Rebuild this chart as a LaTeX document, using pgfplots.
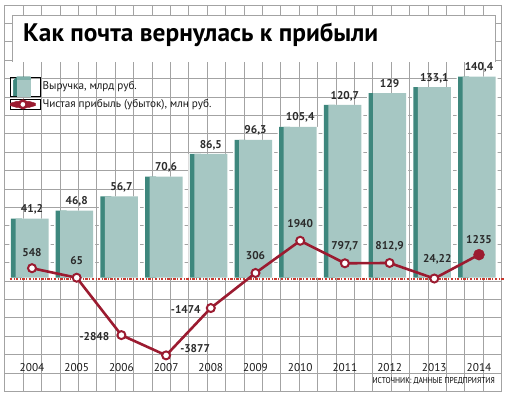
\documentclass[border=0pt]{standalone}
\usepackage{pgfplots}
\pgfplotsset{compat=1.18}
\usepackage{pgfplotstable}
\usepackage{fontspec}
\setmainfont{PT Sans}
\definecolor{gridgray}{HTML}{A3A3A3}
\definecolor{teallight}{HTML}{A6C7C3}
\definecolor{tealmid}{HTML}{7FB0AA}
\definecolor{tealdark}{HTML}{3E877D}
\definecolor{profred}{HTML}{9B1B30}
\definecolor{zerored}{HTML}{C8392F}
\definecolor{labgray}{HTML}{2B2B2B}

\pgfplotstableread{
x rev lab
0 41.2 41,2
1 46.8 46,8
2 56.7 56,7
3 70.6 70,6
4 86.5 86,5
5 96.3 96,3
6 105.4 105,4
7 120.7 120,7
8 129 129
9 133.1 133,1
10 140.4 140,4
}\revenue

\pgfplotstableread{
x y lab dx dy
0 548 548 0 16
1 65 65 0 17
2 -2848 -2848 -27 -1
3 -3877 -3877 29 7
4 -1474 -1474 -25 -1
5 306 306 0 17
6 1940 1940 0 17
7 797.7 797,7 0 17
8 812.9 812,9 0 17
9 24.22 24,22 3 19
10 1235 1235 0 15
}\profit

\begin{document}
\begin{tikzpicture}
\useasboundingbox (0,0) rectangle (509bp,398bp);
\begin{scope}[x=1bp,y=1bp]
% background grid
\foreach \k in {0,...,21}{
  \draw[gridgray, line width=0.9bp] (4,{393-18.4*\k}) -- (502,{393-18.4*\k});
}
\draw[gridgray, line width=0.9bp] (4,393) -- (4,6.6);
\foreach \k in {0,...,26}{
  \draw[gridgray, line width=0.9bp] ({23.3+18.4*\k},393) -- ({23.3+18.4*\k},6.6);
}
% title box
\fill[white] (12,336) rectangle (495,383);
\draw[gridgray, line width=0.9bp] (12,336) -- (12,383) -- (495,383) -- (495,336);
\node[anchor=base west, inner sep=0pt] at (23,356)
  {\resizebox{355bp}{!}{\bfseries Как почта вернулась к прибыли}};
% source
\node[anchor=east, inner sep=0pt] at (495,17)
  {\scalebox{0.88}[1]{\fontsize{8.5bp}{10bp}\selectfont ИСТОЧНИК: ДАННЫЕ ПРЕДПРИЯТИЯ}};
\end{scope}

% revenue bars
\begin{axis}[
  at={(9.65bp,38bp)}, anchor=south west,
  width=491.7bp, height=300bp, scale only axis,
  xmin=-0.5, xmax=10.5, ymin=-57.69, ymax=152.10,
  clip=false,
  axis line style={draw=none}, tick style={draw=none},
  major tick length=0pt,
  ytick=\empty,
  xtick={0,...,10},
  xticklabels={2004,2005,2006,2007,2008,2009,2010,2011,2012,2013,2014},
  xticklabel style={font=\fontsize{11.3bp}{12bp}\selectfont, text=black!90},
  legend style={
    at={(rel axis cs:0.0007,0.945)}, anchor=north west,
    draw=none, fill=none, inner sep=0pt, row sep=1.5bp,
    nodes={inner sep=2bp, font=\fontsize{11.2bp}{12bp}\selectfont, text=black!90},
  },
  legend cell align=left,
]
\addlegendimage{legend image code/.code={
  \path (0bp,-9.5bp) rectangle (30bp,9.5bp);
  \fill[tealdark] (3bp,-9.5bp) -- (3bp,6bp) -- (6.5bp,9.5bp) -- (20bp,9.5bp) -- (20bp,-9.5bp) -- cycle;
  \fill[tealmid] (6.5bp,6bp) -- (6.5bp,9.5bp) -- (20bp,9.5bp) -- (20bp,6bp) -- cycle;
  \fill[teallight] (6.5bp,-9.5bp) rectangle (20bp,6bp);
}}
\addlegendentry{Выручка, млрд руб.}
\addlegendimage{legend image code/.code={
  \path (0bp,-5bp) rectangle (30bp,5bp);
  \fill[profred] (0bp,-1.2bp) -- (6bp,-3bp) -- (19bp,-3bp) -- (25bp,-1.2bp) -- (25bp,1.2bp) -- (19bp,3bp) -- (6bp,3bp) -- (0bp,1.2bp) -- cycle;
  \draw[profred, line width=2.4bp, fill=white] (12.5bp,0bp) circle (3.8bp);
}}
\addlegendentry{Чистая прибыль (убыток), млн руб.}

\addplot[ybar, forget plot, bar width=41bp, bar shift=-2bp, fill=white, draw=none]
  table[x=x, y=rev] {\revenue};
\addplot[ybar, forget plot, bar width=11bp, bar shift=-15.5bp, fill=tealdark, draw=none]
  table[x=x, y=rev] {\revenue};
\addplot[ybar, forget plot, bar width=33bp, bar shift=0bp, fill=teallight, draw=none,
  nodes near coords, point meta=explicit symbolic,
  every node near coord/.append style={anchor=center, yshift=9bp, inner sep=0pt,
    font=\bfseries\fontsize{11.3bp}{12bp}\selectfont, text=labgray}]
  table[x=x, y=rev, meta=lab] {\revenue};
\end{axis}

% net profit line
\begin{axis}[
  at={(9.65bp,38bp)}, anchor=south west,
  width=491.7bp, height=300bp, scale only axis,
  xmin=-0.5, xmax=10.5, ymin=-4111.7, ymax=11116.8,
  clip=false, hide axis,
]
\addplot[zerored, line width=1.3bp, dash pattern=on 2.5bp off 1.5bp on 0.8bp off 1.5bp, forget plot]
  coordinates {(-0.5,0) (10.58,0)};
\addplot[profred, line width=2.6bp, forget plot,
  mark=*, mark size=4bp, mark options={fill=white, draw=profred, line width=2bp, solid},
  nodes near coords, point meta=explicit symbolic,
  visualization depends on={\thisrow{dx}\as\mydx},
  visualization depends on={\thisrow{dy}\as\mydy},
  every node near coord/.append style={anchor=center, xshift=\mydx bp, yshift=\mydy bp,
    inner sep=0pt, font=\bfseries\fontsize{11.3bp}{12bp}\selectfont, text=labgray}]
  table[x=x, y=y, meta=lab] {\profit};
\addplot[profred, only marks, forget plot, mark=*, mark size=5.5bp, mark options={fill=profred, draw=profred}]
  coordinates {(10,1235)};
\end{axis}
\end{tikzpicture}
\end{document}
